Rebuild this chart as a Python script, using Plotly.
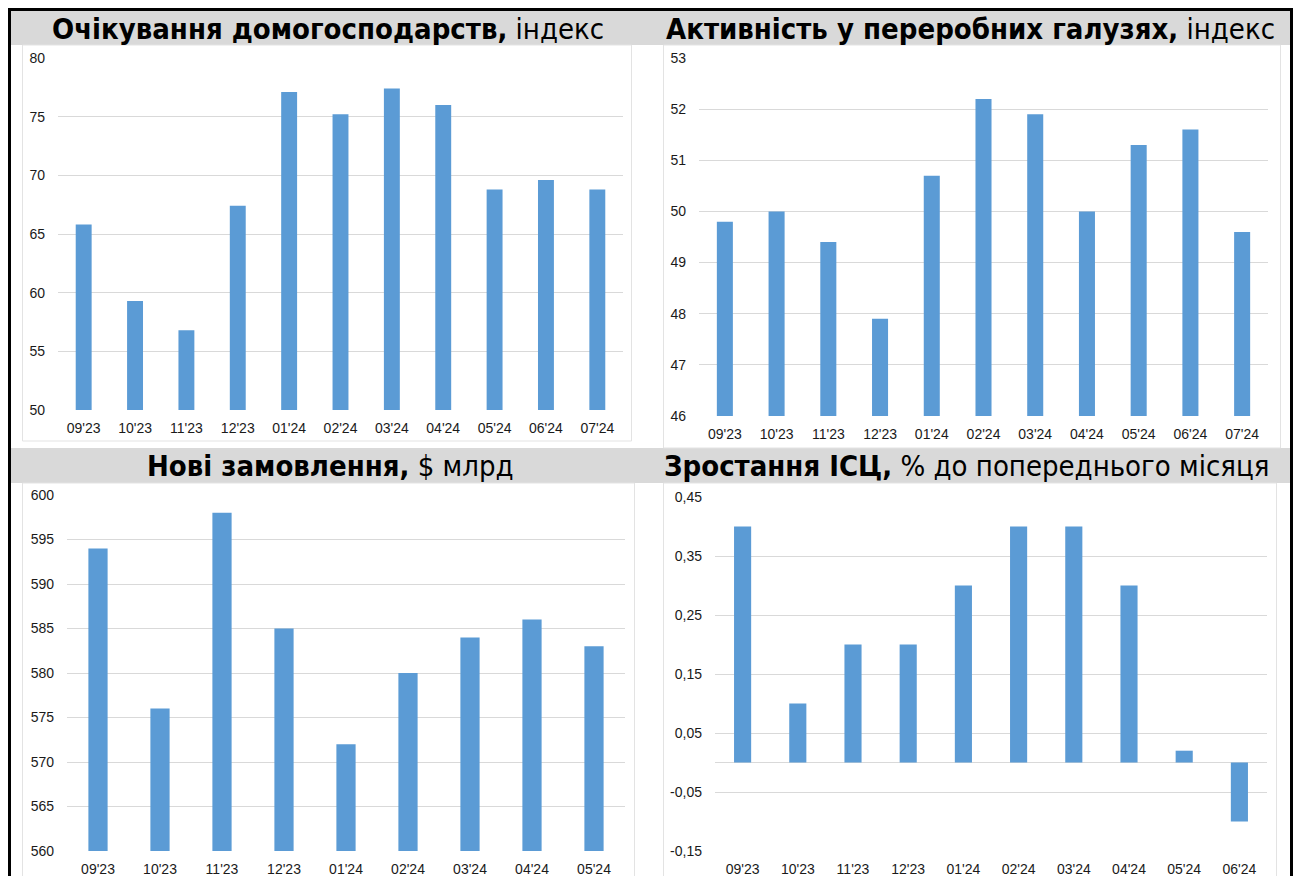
import plotly.graph_objects as go

W, H = 1298, 876

# ---- data -------------------------------------------------------------
months_11 = ["09'23", "10'23", "11'23", "12'23", "01'24", "02'24",
             "03'24", "04'24", "05'24", "06'24", "07'24"]
months_9 = months_11[:9]
months_10 = months_11[:10]

expectations = [65.8, 59.3, 56.8, 67.4, 77.1, 75.2, 77.4, 76.0, 68.8, 69.6, 68.8]
manufacturing = [49.8, 50.0, 49.4, 47.9, 50.7, 52.2, 51.9, 50.0, 51.3, 51.6, 49.6]
new_orders = [594, 576, 598, 585, 572, 580, 584, 586, 583]
cpi_mom = [0.40, 0.10, 0.20, 0.20, 0.30, 0.40, 0.40, 0.30, 0.02, -0.10]

ticks_exp = [50, 55, 60, 65, 70, 75, 80]
ticks_mfg = [46, 47, 48, 49, 50, 51, 52, 53]
ticks_orders = [560, 565, 570, 575, 580, 585, 590, 595, 600]
ticks_cpi = [-0.15, -0.05, 0.05, 0.15, 0.25, 0.35, 0.45]

titles = [
    ("Очікування домогосподарств,", "індекс"),
    ("Активність у переробних галузях,", "індекс"),
    ("Нові замовлення,", "$ млрд"),
    ("Зростання ICЦ,", "% до попереднього місяця"),
]

BAR = "#5b9bd5"
GRID = "#d9d9d9"
BAND = "#d9d9d9"
TICK_FONT = dict(family="Liberation Sans, Arial, sans-serif", size=14, color="#1a1a1a")
TITLE_FONT = dict(family="DejaVu Sans Condensed, DejaVu Sans, sans-serif", size=29, color="#000000")


def px(x):
    return x / W


def py(y):
    return 1 - y / H


fig = go.Figure()

# plot areas in pixels: (x0, x1, ytop, ybottom)
panels = [
    (months_11, expectations, ticks_exp, [str(t) for t in ticks_exp], (58, 623, 58, 410)),
    (months_11, manufacturing, ticks_mfg, [str(t) for t in ticks_mfg], (699, 1268, 58, 416)),
    (months_9, new_orders, ticks_orders, [str(t) for t in ticks_orders], (67, 625, 495, 851)),
    (months_10, cpi_mom, ticks_cpi, [f"{t:.2f}".replace(".", ",") for t in ticks_cpi], (715, 1267, 497, 851)),
]

for i, (cats, vals, tv, tt, (x0, x1, yt, yb)) in enumerate(panels, start=1):
    sfx = "" if i == 1 else str(i)
    fig.add_trace(go.Bar(x=cats, y=vals, marker=dict(color=BAR, line=dict(width=0)),
                         xaxis="x" + sfx, yaxis="y" + sfx, showlegend=False,
                         hoverinfo="x+y"))
    fig.layout["xaxis" + sfx] = dict(
        domain=[px(x0), px(x1)], anchor="y" + sfx, type="category",
        showgrid=False, showline=False, zeroline=False, ticks="",
        tickfont=TICK_FONT, ticklabelstandoff=8, automargin=False,
        fixedrange=True,
    )
    fig.layout["yaxis" + sfx] = dict(
        domain=[py(yb), py(yt)], anchor="x" + sfx,
        range=[tv[0], tv[-1]], tickvals=tv, ticktext=tt,
        showgrid=True, gridcolor=GRID, gridwidth=1,
        zeroline=(i == 4), zerolinecolor=GRID, zerolinewidth=1,
        showline=False, ticks="", tickfont=TICK_FONT,
        ticklabelstandoff=12, automargin=False, fixedrange=True,
    )

shapes = []
# grey title bands
for (y0, y1) in [(11, 45), (448, 483)]:
    shapes.append(dict(type="rect", xref="paper", yref="paper",
                       x0=px(10), x1=px(1291), y0=py(y1), y1=py(y0),
                       fillcolor=BAND, line=dict(width=0), layer="below"))
# chart boxes
for (x0, x1, y0, y1) in [(22, 632, 45, 441), (663, 1281, 45, 448),
                         (22, 635, 483, 900), (663, 1277, 483, 900)]:
    shapes.append(dict(type="rect", xref="paper", yref="paper",
                       x0=px(x0 + 0.5), x1=px(x1 - 0.5), y0=py(y1), y1=py(y0),
                       fillcolor="white", line=dict(color="#e3e3e3", width=1),
                       layer="below"))
# outer frame
shapes.append(dict(type="rect", xref="paper", yref="paper",
                   x0=px(9.5), x1=px(1291.5), y0=py(920), y1=py(9.5),
                   fillcolor="rgba(0,0,0,0)", line=dict(color="black", width=3),
                   layer="above"))

annotations = []
for (bold, rest), (cx, cy) in zip(titles, [(328, 29), (971, 29), (330, 466), (966, 466)]):
    annotations.append(dict(
        xref="paper", yref="paper", x=px(cx), y=py(cy),
        xanchor="center", yanchor="middle", showarrow=False,
        text=f"<b>{bold}</b> {rest}", font=TITLE_FONT,
    ))

fig.update_layout(
    template="none",
    width=W, height=H, margin=dict(l=0, r=0, t=0, b=0, autoexpand=False),
    paper_bgcolor="white", plot_bgcolor="rgba(0,0,0,0)",
    bargap=0.69, shapes=shapes, annotations=annotations,
    showlegend=False,
)

fig.write_html("out.html", config={"displayModeBar": False})
